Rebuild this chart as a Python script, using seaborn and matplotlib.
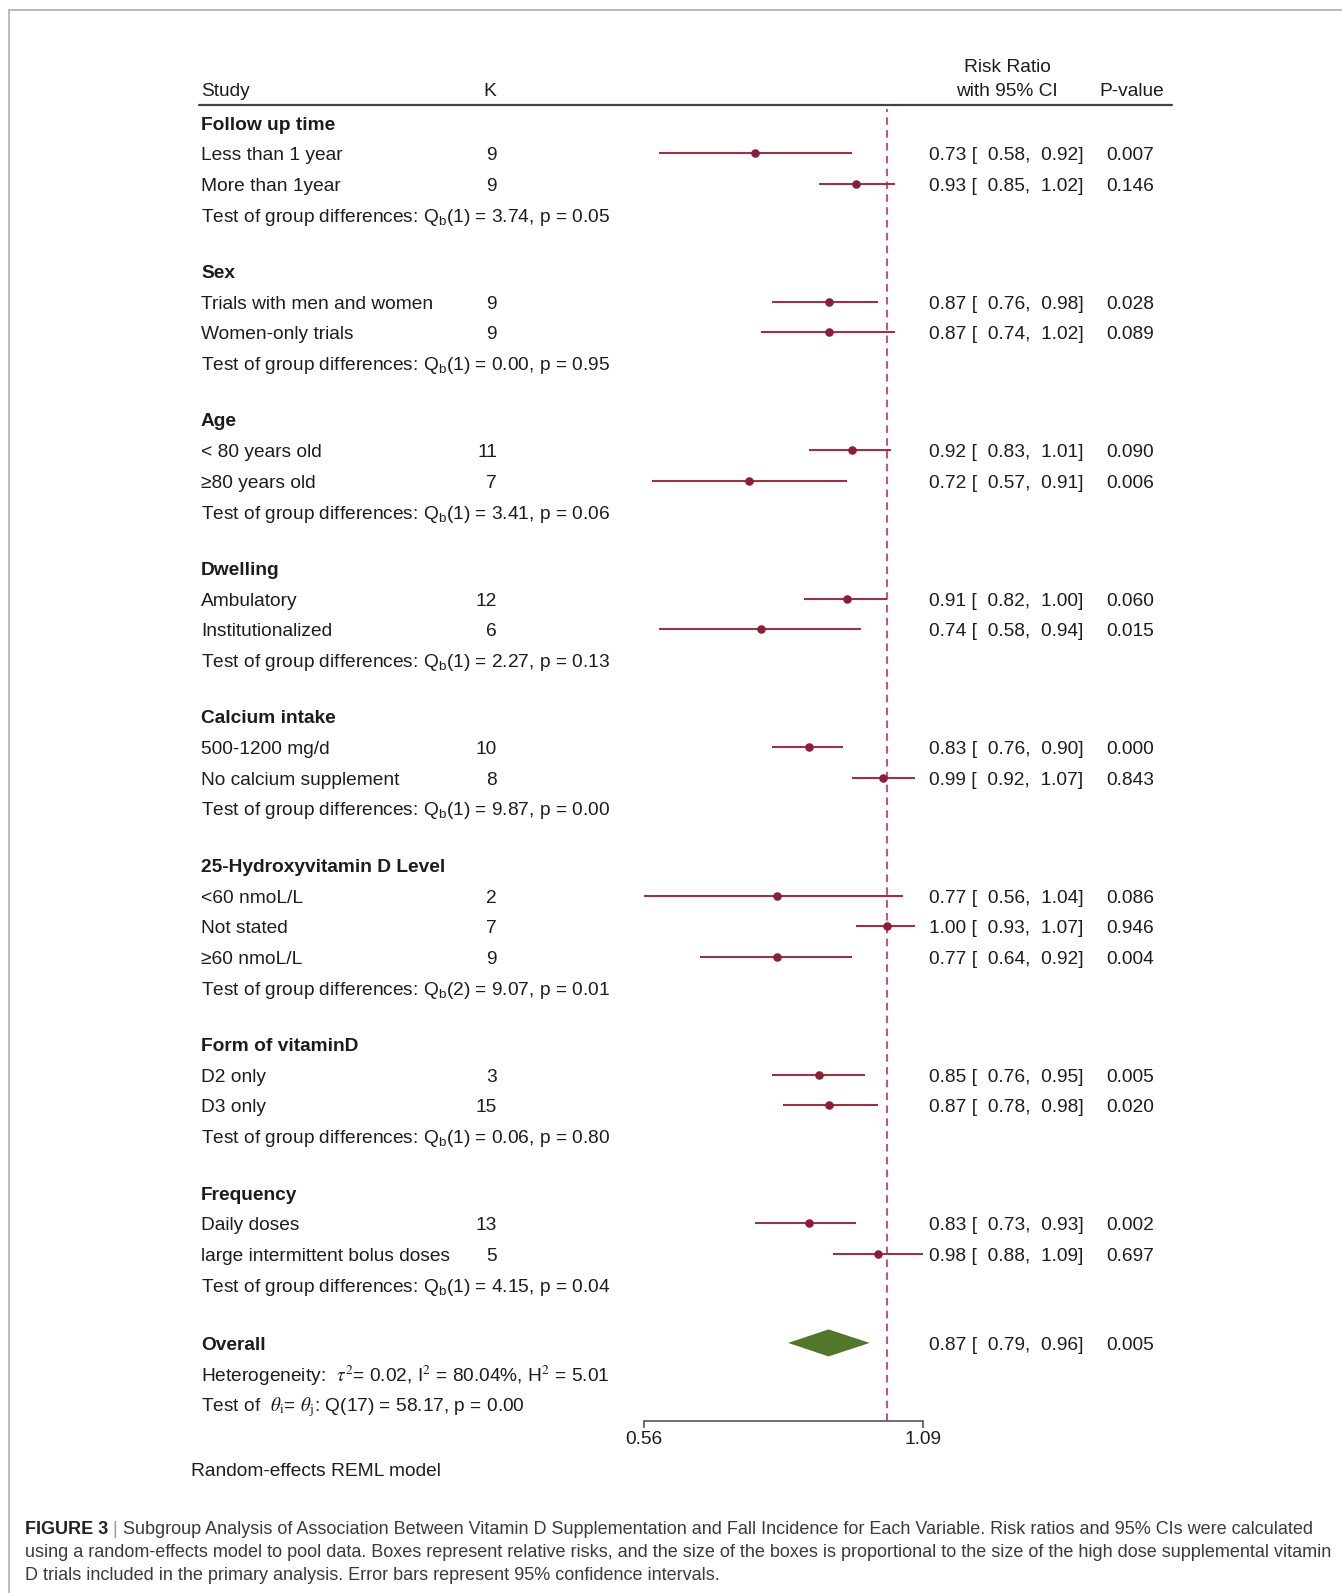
import numpy as np
import pandas as pd
import matplotlib
matplotlib.use("Agg")
import matplotlib.pyplot as plt
import matplotlib.transforms as mtransforms
import seaborn as sns
from matplotlib.lines import Line2D
from matplotlib.ticker import FixedLocator, FixedFormatter, NullLocator

# ---------------------------------------------------------------- data
groups = ["Follow up time", "Sex", "Age", "Dwelling", "Calcium intake",
          "25-Hydroxyvitamin D Level", "Form of vitaminD", "Frequency"]
subgroups = [
    ["Less than 1 year", "More than 1year"],
    ["Trials with men and women", "Women-only trials"],
    ["< 80 years old", "≥80 years old"],
    ["Ambulatory", "Institutionalized"],
    ["500-1200 mg/d", "No calcium supplement"],
    ["<60 nmoL/L", "Not stated", "≥60 nmoL/L"],
    ["D2 only", "D3 only"],
    ["Daily doses", "large intermittent bolus doses"],
]
k_trials = [[9, 9], [9, 9], [11, 7], [12, 6], [10, 8], [2, 7, 9], [3, 15], [13, 5]]
risk_ratio = [[0.73, 0.93], [0.87, 0.87], [0.92, 0.72], [0.91, 0.74],
              [0.83, 0.99], [0.77, 1.00, 0.77], [0.85, 0.87], [0.83, 0.98]]
ci_low = [[0.58, 0.85], [0.76, 0.74], [0.83, 0.57], [0.82, 0.58],
          [0.76, 0.92], [0.56, 0.93, 0.64], [0.76, 0.78], [0.73, 0.88]]
ci_high = [[0.92, 1.02], [0.98, 1.02], [1.01, 0.91], [1.00, 0.94],
           [0.90, 1.07], [1.04, 1.07, 0.92], [0.95, 0.98], [0.93, 1.09]]
p_values = [[0.007, 0.146], [0.028, 0.089], [0.090, 0.006], [0.060, 0.015],
            [0.000, 0.843], [0.086, 0.946, 0.004], [0.005, 0.020], [0.002, 0.697]]
qb_df = [1, 1, 1, 1, 1, 2, 1, 1]
qb_stat = [3.74, 0.00, 3.41, 2.27, 9.87, 9.07, 0.06, 4.15]
qb_p = [0.05, 0.95, 0.06, 0.13, 0.00, 0.01, 0.80, 0.04]

overall_rr, overall_low, overall_high, overall_p = 0.87, 0.79, 0.96, 0.005
tau2, i2, h2 = 0.02, 80.04, 5.01
q_df, q_stat, q_p = 17, 58.17, 0.00
axis_ticks = [0.56, 1.09]

# ---------------------------------------------------------------- layout
W, H = 1342, 1593
PITCH = 30.69          # pixels per table row
ROW0 = 122.5           # pixel centre of the first row
GAP = 1.838            # rows between a test line and the next heading
GAP_OVERALL = 1.90     # rows between the last test line and "Overall"
AX_LEFT, AX_RIGHT = 644.3, 922.8
AX_TOP, AX_BOTTOM = 104.7, 1420.7


def fx(px):
    return px / W


def fy(py):
    return 1 - py / H


def row_of(py):
    return (py - ROW0) / PITCH


def col(px):
    return (px - AX_LEFT) / (AX_RIGHT - AX_LEFT)


# assemble rows of the table
records = []
headings = []
tests = []
y = 0.0
for g, name in enumerate(groups):
    headings.append((y, name))
    for j, lab in enumerate(subgroups[g]):
        records.append(dict(row=y + 1 + j, label=lab, k=k_trials[g][j],
                            rr=risk_ratio[g][j], lo=ci_low[g][j],
                            hi=ci_high[g][j], p=p_values[g][j]))
    n = len(subgroups[g])
    tests.append((y + n + 1, qb_df[g], qb_stat[g], qb_p[g]))
    last = g == len(groups) - 1
    y = y + n + 1 + (GAP_OVERALL if last else GAP)
overall_row = y
df = pd.DataFrame(records)

# ---------------------------------------------------------------- style
sns.set_theme(style="white")
plt.rcParams["font.family"] = ["Liberation Sans", "DejaVu Sans"]
plt.rcParams["mathtext.fontset"] = "custom"
plt.rcParams["mathtext.rm"] = "Liberation Sans"
plt.rcParams["mathtext.it"] = "Liberation Sans:italic"

FS = 13.8
TXT = "#1c1c1c"
CI_COL = "#993447"
DOT_COL = "#8a1f38"
NULL_COL = "#cf2a5c"
DIAMOND_COL = "#52772a"

fig = plt.figure(figsize=(W / 100, H / 100), dpi=100)
fig.patch.set_facecolor("white")
ax = fig.add_axes([fx(AX_LEFT), fy(AX_BOTTOM),
                   (AX_RIGHT - AX_LEFT) / W, (AX_BOTTOM - AX_TOP) / H])
ax.set_xscale("log")
ax.set_xlim(axis_ticks[0], axis_ticks[1])
ax.set_ylim(row_of(AX_BOTTOM), row_of(AX_TOP))
ax.patch.set_alpha(0)

# confidence intervals and point estimates
ax.hlines(df["row"], df["lo"], df["hi"], color=CI_COL, lw=1.5, clip_on=False, zorder=2)
sns.scatterplot(data=df, x="rr", y="row", ax=ax, color=DOT_COL, s=38,
                edgecolor=DOT_COL, linewidth=0, zorder=3, clip_on=False)

# overall diamond
half = 0.44
ax.fill([overall_low, overall_rr, overall_high, overall_rr],
        [overall_row, overall_row - half, overall_row, overall_row + half],
        color=DIAMOND_COL, lw=0, zorder=3)

# null line
ax.axvline(1.0, ymax=0.997, color=NULL_COL, lw=1.2, ls=(0, (4.5, 3.2)), zorder=1)

# axis
for s in ["top", "left", "right"]:
    ax.spines[s].set_visible(False)
ax.spines["bottom"].set_bounds(axis_ticks[0], axis_ticks[1])
ax.spines["bottom"].set_color("#555555")
ax.spines["bottom"].set_linewidth(1.2)
ax.xaxis.set_major_locator(FixedLocator(axis_ticks))
ax.xaxis.set_major_formatter(FixedFormatter([f"{t:.2f}" for t in axis_ticks]))
ax.xaxis.set_minor_locator(NullLocator())
ax.tick_params(axis="x", which="major", direction="out", length=5, width=1.2,
               color="#555555", labelsize=FS, labelcolor=TXT, pad=2.5, bottom=True)
ax.set_yticks([])
ax.set_xlabel("")
ax.set_ylabel("")

# table text sits on the row centre, nudged to match the optical centre of the glyphs
tr = mtransforms.offset_copy(ax.get_yaxis_transform(), fig=fig, x=0, y=-2.5,
                             units="dots")
txt = dict(transform=tr, fontsize=FS, color=TXT, va="center", clip_on=False)

# header
hdr_top, hdr_bot = row_of(65), row_of(89.4)
ax.text(col(201), hdr_bot, "Study", ha="left", **txt)
ax.text(col(490), hdr_bot, "K", ha="center", **txt)
ax.text(col(1007), hdr_top, "Risk Ratio", ha="center", **txt)
ax.text(col(1007), hdr_bot, "with 95% CI", ha="center", **txt)
ax.text(col(1132), hdr_bot, "P-value", ha="center", **txt)
ax.axhline(row_of(AX_TOP), xmin=col(199), xmax=col(1172), color="#444444",
           lw=1.6, clip_on=False)

X_LABEL, X_K, X_RR, X_P = 201, 497, 929, 1106

for r, name in headings:
    ax.text(col(X_LABEL), r, name, ha="left", fontweight="bold", **txt)
for _, rec in df.iterrows():
    ax.text(col(X_LABEL), rec["row"], rec["label"], ha="left", **txt)
    ax.text(col(X_K), rec["row"], f"{rec['k']}", ha="right", **txt)
    ax.text(col(X_RR), rec["row"],
            f"{rec['rr']:.2f} [  {rec['lo']:.2f},  {rec['hi']:.2f}]", ha="left", **txt)
    ax.text(col(X_P), rec["row"], f"{rec['p']:.3f}", ha="left", **txt)
for r, d, q, p in tests:
    ax.text(col(X_LABEL), r,
            rf"Test of group differences: Q$_\mathrm{{b}}$({d}) = {q:.2f}, p = {p:.2f}",
            ha="left", **txt)

# overall block
ax.text(col(X_LABEL), overall_row, "Overall", ha="left", fontweight="bold", **txt)
ax.text(col(X_RR), overall_row,
        f"{overall_rr:.2f} [  {overall_low:.2f},  {overall_high:.2f}]", ha="left", **txt)
ax.text(col(X_P), overall_row, f"{overall_p:.3f}", ha="left", **txt)
ax.text(col(X_LABEL), overall_row + 1,
        rf"Heterogeneity:  $\tau^2$= {tau2:.2f}, I$^2$ = {i2:.2f}%, H$^2$ = {h2:.2f}",
        ha="left", math_fontfamily="stix", **txt)
ax.text(col(X_LABEL), overall_row + 2,
        rf"Test of  $\theta_\mathrm{{i}}$= $\theta_\mathrm{{j}}$: Q({q_df}) = {q_stat:.2f}, p = {q_p:.2f}",
        ha="left", math_fontfamily="stix", **txt)

fig.text(fx(191), fy(1472), "Random-effects REML model", fontsize=FS, color=TXT,
         ha="left", va="center")

# frame around the figure panel
frame = dict(color="#b4b4b4", lw=1.3, transform=fig.transFigure)
fig.add_artist(Line2D([fx(9), fx(9)], [fy(10), 0], **frame))
fig.add_artist(Line2D([fx(9), 1], [fy(10), fy(10)], **frame))

# caption
CFS = 13.0
CAP = "#3a3a3a"
t1 = fig.text(fx(25), fy(1529.5), "FIGURE 3", fontsize=CFS, fontweight="bold",
              color="#222222", ha="left", va="center")
t2 = ax.annotate(" | ", xy=(1, 0), xycoords=t1, ha="left", va="bottom",
                 fontsize=CFS, color="#9a9a9a", annotation_clip=False)
ax.annotate("Subgroup Analysis of Association Between Vitamin D Supplementation and "
            "Fall Incidence for Each Variable. Risk ratios and 95% CIs were calculated",
            xy=(1, 0), xycoords=t2, ha="left", va="bottom", fontsize=CFS,
            color=CAP, annotation_clip=False)
fig.text(fx(25), fy(1552.5), "using a random-effects model to pool data. Boxes represent "
         "relative risks, and the size of the boxes is proportional to the size of the "
         "high dose supplemental vitamin", fontsize=CFS, color=CAP, ha="left", va="center")
fig.text(fx(25), fy(1575.5), "D trials included in the primary analysis. Error bars "
         "represent 95% confidence intervals.", fontsize=CFS, color=CAP, ha="left",
         va="center")

fig.savefig("out.png", dpi=100, facecolor="white")
